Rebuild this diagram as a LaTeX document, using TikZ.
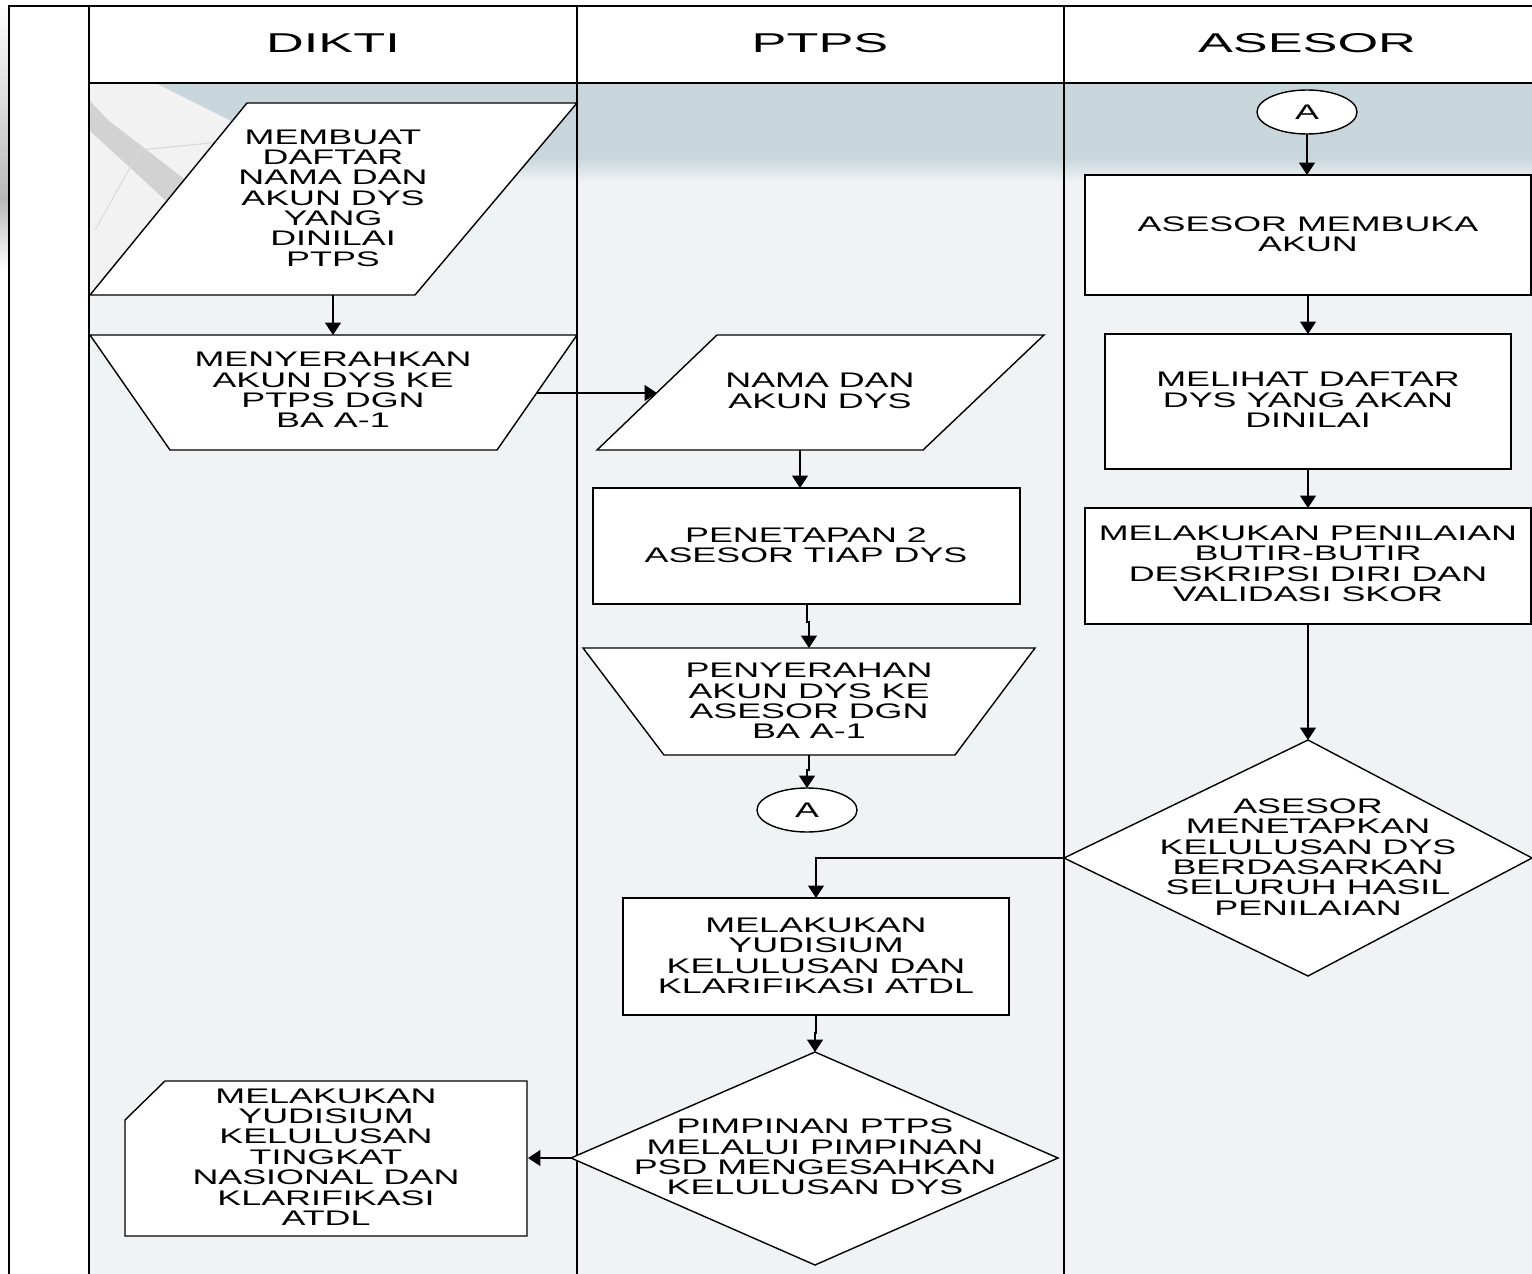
\documentclass[tikz,border=0pt]{standalone}
\usepackage{fontspec}
\setmainfont[FakeStretch=1.7]{Liberation Sans}
\newfontfamily\titlefont[FakeStretch=1.92]{Liberation Sans}
\usetikzlibrary{arrows.meta}
\definecolor{lanebg}{HTML}{F0F3F4}
\definecolor{bandbg}{HTML}{C9D7DD}
\begin{document}
\begin{tikzpicture}[x=0.02cm,y=-0.02cm,
  shp/.style={draw=black,fill=white,line width=0.8pt,line join=miter},
  txt/.style={inner sep=0pt,align=center,font=\fontsize{12}{11.6}\selectfont},
  ttl/.style={inner sep=0pt,font=\titlefont\fontsize{15.5}{18}\selectfont},
  arr/.style={line width=0.8pt,-{Triangle[width=9pt,length=7pt]}},
  framel/.style={line width=1.7pt},
  lanel/.style={line width=0.8pt}]
\useasboundingbox (0,0) rectangle (1532,1274);
\fill[white] (0,0) rectangle (1532,1274);
% backgrounds
\fill[lanebg] (89,83) rectangle (1532,1274);
\fill[bandbg] (89,83) rectangle (1532,158);
\shade[top color=bandbg,bottom color=lanebg] (89,158) rectangle (1532,182);
% decoration
\fill[gray!10] (89,83) -- (155,83) -- (245,128) -- (89,300) -- cycle;
\fill[gray!35] (89,100) -- (108,120) -- (192,185) -- (174,208) -- (89,130) -- cycle;
\draw[gray!30,line width=0.6pt] (95,230) -- (140,150) -- (240,140);
\shade[top color=white,bottom color=gray!55] (0,0) rectangle (9,200);
\shade[top color=gray!55,bottom color=white] (0,200) rectangle (9,270);
% frame and lanes
\draw[lanel] (89,6) -- (1532,6);
\draw[lanel] (89,83) -- (1532,83);
\draw[lanel] (577,6) -- (577,1274);
\draw[lanel] (1064,6) -- (1064,1274);
\draw[framel] (9,1274) -- (9,6) -- (89,6) -- (89,1274);
% titles
\node[ttl] (hdikti) at (333,43) {DIKTI};
\node[ttl] (hptps) at (820,43) {PTPS};
\node[ttl] (hasesor) at (1307,43) {ASESOR};
% DIKTI lane
\draw[shp] (247,103) -- (577,103) -- (415,295) -- (90,295) -- cycle;
\node[txt] (p1) at (333,198) {MEMBUAT\\DAFTAR\\NAMA DAN\\AKUN DYS\\YANG\\DINILAI\\PTPS};
\draw[shp] (90,335) -- (577,335) -- (497,450) -- (170,450) -- cycle;
\node[txt] (t1) at (333,390) {MENYERAHKAN\\AKUN DYS KE\\PTPS DGN\\BA A-1};
\draw[shp] (165,1081) -- (527,1081) -- (527,1236) -- (125,1236) -- (125,1120) -- cycle;
\node[txt] (c1) at (326,1157) {MELAKUKAN\\YUDISIUM\\KELULUSAN\\TINGKAT\\NASIONAL DAN\\KLARIFIKASI\\ATDL};
% PTPS lane
\draw[shp] (717,335) -- (1044,335) -- (923,450) -- (597,450) -- cycle;
\node[txt] (p2) at (820,391) {NAMA DAN\\AKUN DYS};
\draw[shp] (593,488) rectangle (1020,604);
\node[txt] (r1) at (806,545) {PENETAPAN 2\\ASESOR TIAP DYS};
\draw[shp] (583,648) -- (1035,648) -- (955,755) -- (664,755) -- cycle;
\node[txt] (t2) at (809,701) {PENYERAHAN\\AKUN DYS KE\\ASESOR DGN\\BA A-1};
\draw[shp] (807,810) ellipse [x radius=50,y radius=22];
\node[txt] (e1) at (807,810) {A};
\draw[shp] (623,898) rectangle (1009,1015);
\node[txt] (r5) at (816,956) {MELAKUKAN\\YUDISIUM\\KELULUSAN DAN\\KLARIFIKASI ATDL};
\draw[shp] (815,1052) -- (1058,1158) -- (815,1265) -- (571,1158) -- cycle;
\node[txt] (d2) at (815,1157) {PIMPINAN PTPS\\MELALUI PIMPINAN\\PSD MENGESAHKAN\\KELULUSAN DYS};
% ASESOR lane
\draw[shp] (1307,112) ellipse [x radius=50,y radius=22];
\node[txt] (e2) at (1307,112) {A};
\draw[shp] (1085,175) rectangle (1531,295);
\node[txt] (r2) at (1308,234) {ASESOR MEMBUKA\\AKUN};
\draw[shp] (1105,334) rectangle (1511,469);
\node[txt] (r3) at (1308,400) {MELIHAT DAFTAR\\DYS YANG AKAN\\DINILAI};
\draw[shp] (1085,508) rectangle (1531,624);
\node[txt] (r4) at (1308,564) {MELAKUKAN PENILAIAN\\BUTIR-BUTIR\\DESKRIPSI DIRI DAN\\VALIDASI SKOR};
\draw[shp] (1308,740) -- (1532,858) -- (1308,976) -- (1064,858) -- cycle;
\node[txt] (d1) at (1308,857) {ASESOR\\MENETAPKAN\\KELULUSAN DYS\\BERDASARKAN\\SELURUH HASIL\\PENILAIAN};
% connector end points
\coordinate (p1s) at (333,295); \coordinate (t1n) at (333,335);
\coordinate (t1e) at (537,393); \coordinate (p2w) at (657,393);
\coordinate (p2s) at (800,450); \coordinate (r1n) at (800,488);
\coordinate (r1s) at (807,604); \coordinate (t2n) at (809,648);
\coordinate (t2s) at (809,755); \coordinate (e1n) at (807,788);
\coordinate (e2s) at (1307,134); \coordinate (r2n) at (1307,175);
\coordinate (r2s) at (1308,295); \coordinate (r3n) at (1308,334);
\coordinate (r3s) at (1308,469); \coordinate (r4n) at (1308,508);
\coordinate (r4s) at (1308,624); \coordinate (d1n) at (1308,740);
\coordinate (d1w) at (1064,858); \coordinate (r5n) at (816,898);
\coordinate (r5s) at (816,1015); \coordinate (d2n) at (815,1052);
\coordinate (d2w) at (571,1158); \coordinate (c1e) at (528,1158);
% connectors
\draw[arr] (p1s) -- (t1n);
\draw[arr] (t1e) -- (p2w);
\draw[arr] (p2s) -- (r1n);
\draw[arr] (r1s) -- ++(0,18) -| (t2n);
\draw[arr] (t2s) -- ++(0,15) -| (e1n);
\draw[arr] (e2s) -- (r2n);
\draw[arr] (r2s) -- (r3n);
\draw[arr] (r3s) -- (r4n);
\draw[arr] (r4s) -- (d1n);
\draw[arr] (d1w) -| (r5n);
\draw[arr] (r5s) -- ++(0,18) -| (d2n);
\draw[arr] (d2w) -- (c1e);
\end{tikzpicture}
\end{document}
